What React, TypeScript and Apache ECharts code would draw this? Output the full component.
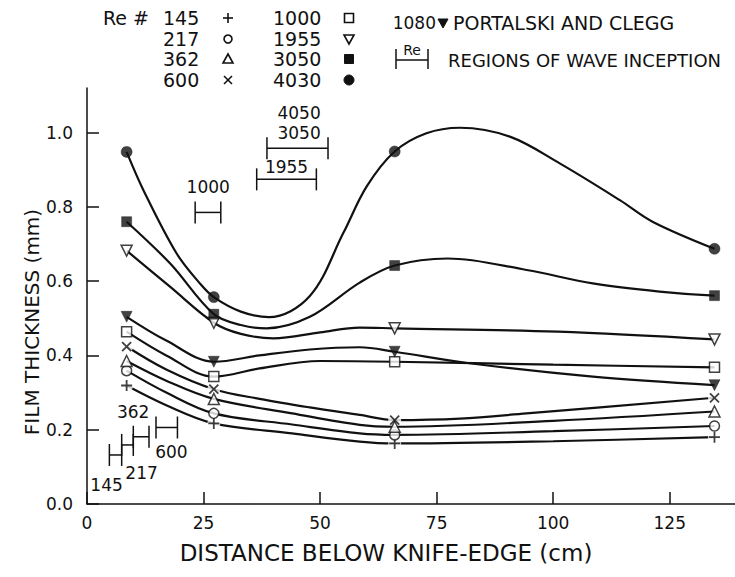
import React, { useEffect, useRef } from "react";
import * as echarts from "echarts";

// ---------- data ----------
const xTicks = [0, 25, 50, 75, 100, 125];
const yTicks = [0, 0.2, 0.4, 0.6, 0.8, 1.0];

// measuring stations (cm below knife-edge)
const stations = [8.5, 27.2, 66, 134.6];

// measured film thickness (mm) at each station
const re145 = [0.319, 0.217, 0.163, 0.18];
const re217 = [0.359, 0.244, 0.186, 0.21];
const re362 = [0.385, 0.283, 0.208, 0.249];
const re600 = [0.424, 0.309, 0.226, 0.286];
const re1000 = [0.464, 0.343, 0.383, 0.368];
const re1955 = [0.682, 0.488, 0.473, 0.443];
const re3050 = [0.76, 0.511, 0.642, 0.561];
const re4030 = [0.948, 0.557, 0.949, 0.687];
const re1080 = [0.504, 0.383, 0.41, 0.32];

// faired curves as drawn in the figure
const curve145 = [[8.5, 0.319], [17, 0.266], [27.2, 0.217], [44, 0.19], [58.5, 0.168], [66, 0.163], [100, 0.169], [134.6, 0.18]];
const curve217 = [[8.5, 0.359], [17, 0.3], [27.2, 0.244], [44, 0.214], [58.5, 0.19], [66, 0.186], [100, 0.196], [134.6, 0.21]];
const curve362 = [[8.5, 0.385], [17, 0.332], [27.2, 0.283], [44, 0.244], [58.5, 0.213], [66, 0.208], [100, 0.224], [134.6, 0.249]];
const curve600 = [[8.5, 0.424], [17, 0.362], [27.2, 0.309], [37, 0.283], [47.8, 0.26], [58.5, 0.24], [66, 0.226], [80, 0.23], [94.3, 0.244], [134.6, 0.286]];
const curve1000 = [[8.5, 0.464], [17, 0.4], [27.2, 0.343], [37, 0.365], [50, 0.385], [66, 0.383], [100, 0.375], [134.6, 0.368]];
const curve1080 = [[8.5, 0.504], [17, 0.44], [27.2, 0.383], [37, 0.4], [47.8, 0.416], [58.5, 0.422], [66, 0.41], [82, 0.379], [108.5, 0.343], [134.6, 0.32]];
const curve1955 = [[8.5, 0.682], [17.8, 0.585], [27.2, 0.488], [33, 0.458], [40, 0.446], [50, 0.462], [58.5, 0.475], [66, 0.473], [101, 0.464], [134.6, 0.443]];
const curve3050 = [[8.5, 0.76], [17.8, 0.648], [27.2, 0.511], [33, 0.482], [38.5, 0.473], [47.8, 0.504], [58.5, 0.596], [66, 0.642], [77.4, 0.661], [94.3, 0.63], [108.5, 0.594], [122.8, 0.572], [134.6, 0.561]];
const curve4030 = [[8.5, 0.948], [12.1, 0.845], [19.2, 0.675], [24.2, 0.594], [27.2, 0.557], [33, 0.518], [39, 0.503], [47.8, 0.56], [55, 0.73], [60, 0.855], [66, 0.949], [72.8, 0.998], [80, 1.013], [90.7, 0.989], [101.4, 0.917], [114.3, 0.818], [121.3, 0.76], [134.6, 0.687]];

// regions of wave inception
const bracketLabels = ["145", "217", "362", "600", "1000", "1955", "4050\n3050"];
const bracketStart = [4.8, 7.44, 9.93, 14.8, 23.2, 36.4, 38.6];
const bracketEnd = [7.44, 9.93, 13.3, 19.4, 28.7, 49.2, 51.7];
const bracketY = [0.132, 0.159, 0.181, 0.206, 0.785, 0.874, 0.958];
const bracketLabelX = [4.2, 11.7, 9.9, 18.1, 26, 42.8, 45.5];
const bracketLabelY = [0.051, 0.083, 0.249, 0.141, 0.854, 0.907, 1.025];

// legend texts
const legendCol1 = ["145", "217", "362", "600"];
const legendCol2 = ["1000", "1955", "3050", "4030"];

// ---------- styling ----------
const INK = "#111";
const FONT = "'DejaVu Sans', sans-serif";
const PLUS = "path://M5,0L5,10M0,5L10,5";
const CROSS = "path://M0,0L10,10M10,0L0,10";

type Kind = "plus" | "circle" | "tri" | "cross" | "square" | "triDown" | "squareFill" | "circleFill" | "triDownFill";

const seriesDefs: { name: string; values: number[]; curve: number[][]; kind: Kind }[] = [
  { name: "145", values: re145, curve: curve145, kind: "plus" },
  { name: "217", values: re217, curve: curve217, kind: "circle" },
  { name: "362", values: re362, curve: curve362, kind: "tri" },
  { name: "600", values: re600, curve: curve600, kind: "cross" },
  { name: "1000", values: re1000, curve: curve1000, kind: "square" },
  { name: "1955", values: re1955, curve: curve1955, kind: "triDown" },
  { name: "3050", values: re3050, curve: curve3050, kind: "squareFill" },
  { name: "4030", values: re4030, curve: curve4030, kind: "circleFill" },
  { name: "1080", values: re1080, curve: curve1080, kind: "triDownFill" },
];

function markerStyle(kind: Kind) {
  const hollow = { color: "#fff", borderColor: INK, borderWidth: 1.5 };
  const filled = { color: INK, borderColor: INK, borderWidth: 0.5 };
  const stroke = { color: "transparent", borderColor: INK, borderWidth: 1.8 };
  switch (kind) {
    case "plus": return { symbol: PLUS, symbolSize: 11, symbolRotate: 0, itemStyle: stroke };
    case "cross": return { symbol: CROSS, symbolSize: 9, symbolRotate: 0, itemStyle: stroke };
    case "circle": return { symbol: "circle", symbolSize: 10, symbolRotate: 0, itemStyle: hollow };
    case "circleFill": return { symbol: "circle", symbolSize: 11, symbolRotate: 0, itemStyle: filled };
    case "tri": return { symbol: "triangle", symbolSize: 11, symbolRotate: 0, itemStyle: hollow };
    case "triDown": return { symbol: "triangle", symbolSize: 11, symbolRotate: 180, itemStyle: hollow };
    case "triDownFill": return { symbol: "triangle", symbolSize: 11, symbolRotate: 180, itemStyle: filled };
    case "square": return { symbol: "rect", symbolSize: 10, symbolRotate: 0, itemStyle: hollow };
    default: return { symbol: "rect", symbolSize: 10, symbolRotate: 0, itemStyle: filled };
  }
}

function legendSymbol(kind: Kind, cx: number, cy: number): any {
  const ls = { stroke: INK, lineWidth: 1.6, fill: "#fff" };
  const fs = { stroke: INK, lineWidth: 1, fill: INK };
  switch (kind) {
    case "plus":
      return { type: "group", children: [
        { type: "line", shape: { x1: cx - 5, y1: cy, x2: cx + 5, y2: cy }, style: ls },
        { type: "line", shape: { x1: cx, y1: cy - 5, x2: cx, y2: cy + 5 }, style: ls },
      ] };
    case "cross":
      return { type: "group", children: [
        { type: "line", shape: { x1: cx - 4, y1: cy - 4, x2: cx + 4, y2: cy + 4 }, style: ls },
        { type: "line", shape: { x1: cx + 4, y1: cy - 4, x2: cx - 4, y2: cy + 4 }, style: ls },
      ] };
    case "circle": return { type: "circle", shape: { cx, cy, r: 4 }, style: ls };
    case "circleFill": return { type: "circle", shape: { cx, cy, r: 5 }, style: fs };
    case "tri": return { type: "polygon", shape: { points: [[cx, cy - 5], [cx - 5, cy + 4], [cx + 5, cy + 4]] }, style: ls };
    case "triDown": return { type: "polygon", shape: { points: [[cx - 5, cy - 4], [cx + 5, cy - 4], [cx, cy + 5]] }, style: ls };
    case "triDownFill": return { type: "polygon", shape: { points: [[cx - 5, cy - 4], [cx + 5, cy - 4], [cx, cy + 5]] }, style: fs };
    case "square": return { type: "rect", shape: { x: cx - 4.5, y: cy - 4.5, width: 9, height: 9 }, style: ls };
    default: return { type: "rect", shape: { x: cx - 4.5, y: cy - 4.5, width: 9, height: 9 }, style: fs };
  }
}

function buildOption(): any {
  const lineSeries = seriesDefs.map((d) => ({
    name: d.name + " curve",
    type: "line",
    data: d.curve,
    smooth: 0.35,
    showSymbol: false,
    silent: true,
    lineStyle: { color: INK, width: 2.2 },
    z: 2,
  }));

  const haloSeries = seriesDefs
    .filter((d) => d.kind === "plus" || d.kind === "cross")
    .map((d) => ({
      name: d.name + " halo",
      type: "scatter",
      data: stations.map((x, i) => [x, d.values[i]]),
      symbol: "circle",
      symbolSize: 13,
      itemStyle: { color: "#fff" },
      silent: true,
      z: 3,
    }));

  const markerSeries = seriesDefs.map((d) => ({
    name: d.name,
    type: "scatter",
    data: stations.map((x, i) => [x, d.values[i]]),
    ...markerStyle(d.kind),
    z: 4,
  }));

  const bracketSeries = {
    name: "inception",
    type: "custom",
    z: 5,
    silent: true,
    data: bracketStart.map((s, i) => [s, bracketEnd[i], bracketY[i], bracketLabelX[i], bracketLabelY[i]]),
    encode: { x: [0, 1, 3], y: [2, 4] },
    renderItem: (params: any, api: any) => {
      const p0 = api.coord([api.value(0), api.value(2)]);
      const p1 = api.coord([api.value(1), api.value(2)]);
      const pl = api.coord([api.value(3), api.value(4)]);
      const h = 11;
      const st = { stroke: INK, lineWidth: 1.5 };
      return {
        type: "group",
        children: [
          { type: "line", shape: { x1: p0[0], y1: p0[1], x2: p1[0], y2: p1[1] }, style: st },
          { type: "line", shape: { x1: p0[0], y1: p0[1] - h, x2: p0[0], y2: p0[1] + h }, style: st },
          { type: "line", shape: { x1: p1[0], y1: p1[1] - h, x2: p1[0], y2: p1[1] + h }, style: st },
          {
            type: "text",
            x: pl[0],
            y: pl[1],
            style: {
              text: bracketLabels[params.dataIndex],
              font: `17px ${FONT}`,
              fill: INK,
              align: "center",
              verticalAlign: "middle",
              lineHeight: 20,
            },
          },
        ],
      };
    },
  };

  const rowY = [18, 39, 59, 80];
  const col1Kinds: Kind[] = ["plus", "circle", "tri", "cross"];
  const col2Kinds: Kind[] = ["square", "triDown", "squareFill", "circleFill"];
  const txt = (text: string, x: number, y: number, size: number, align = "left", rotation = 0) => ({
    type: "text",
    x,
    y,
    rotation,
    style: { text, font: `${size}px ${FONT}`, fill: INK, align, verticalAlign: "middle" },
  });

  const graphics: any[] = [
    txt("Re #", 103, rowY[0], 19),
    ...legendCol1.map((t, i) => txt(t, 163, rowY[i], 19)),
    ...col1Kinds.map((k, i) => legendSymbol(k, 228, rowY[i])),
    ...legendCol2.map((t, i) => txt(t, 273, rowY[i], 19)),
    ...col2Kinds.map((k, i) => legendSymbol(k, 349, rowY[i])),
    txt("1080", 436, 23, 17, "right"),
    legendSymbol("triDownFill", 443, 23),
    txt("PORTALSKI AND CLEGG", 453, 23, 19),
    { type: "line", shape: { x1: 396, y1: 60, x2: 428, y2: 60 }, style: { stroke: INK, lineWidth: 1.5 } },
    { type: "line", shape: { x1: 396, y1: 49, x2: 396, y2: 69 }, style: { stroke: INK, lineWidth: 1.5 } },
    { type: "line", shape: { x1: 428, y1: 49, x2: 428, y2: 69 }, style: { stroke: INK, lineWidth: 1.5 } },
    txt("Re", 412, 50, 14, "center"),
    txt("REGIONS OF WAVE INCEPTION", 448, 60, 18),
    txt("FILM THICKNESS (mm)", 32, 322, 20, "center", Math.PI / 2),
    txt("DISTANCE BELOW KNIFE-EDGE (cm)", 386, 553, 23, "center"),
  ];

  return {
    animation: false,
    backgroundColor: "#fff",
    grid: { left: 87, right: 0, top: 88, bottom: 73, containLabel: false, outerBoundsMode: "none" },
    xAxis: {
      type: "value",
      min: 0,
      max: 139,
      axisLine: { show: true, onZero: false, lineStyle: { color: INK, width: 1.5 } },
      axisTick: { show: true, inside: true, length: 12, customValues: xTicks, lineStyle: { color: INK, width: 1.5 } },
      axisLabel: { customValues: xTicks, color: INK, fontSize: 17, fontFamily: FONT, margin: 10, formatter: (v: number) => String(v) },
      splitLine: { show: false },
    },
    yAxis: {
      type: "value",
      min: 0,
      max: 1.12,
      axisLine: { show: true, onZero: false, lineStyle: { color: INK, width: 1.5 } },
      axisTick: { show: true, inside: true, length: 12, customValues: yTicks, lineStyle: { color: INK, width: 1.5 } },
      axisLabel: { customValues: yTicks, color: INK, fontSize: 17, fontFamily: FONT, margin: 14, formatter: (v: number) => v.toFixed(1) },
      splitLine: { show: false },
    },
    graphic: graphics,
    series: [...lineSeries, ...haloSeries, ...markerSeries, bracketSeries],
  };
}

export default function App() {
  const ref = useRef<HTMLDivElement>(null);
  useEffect(() => {
    document.body.style.margin = "0";
    const chart = echarts.init(ref.current as HTMLDivElement, null, { renderer: "svg" });
    chart.setOption(buildOption());
    return () => chart.dispose();
  }, []);
  return <div ref={ref} style={{ width: 735, height: 577, background: "#fff" }} />;
}
